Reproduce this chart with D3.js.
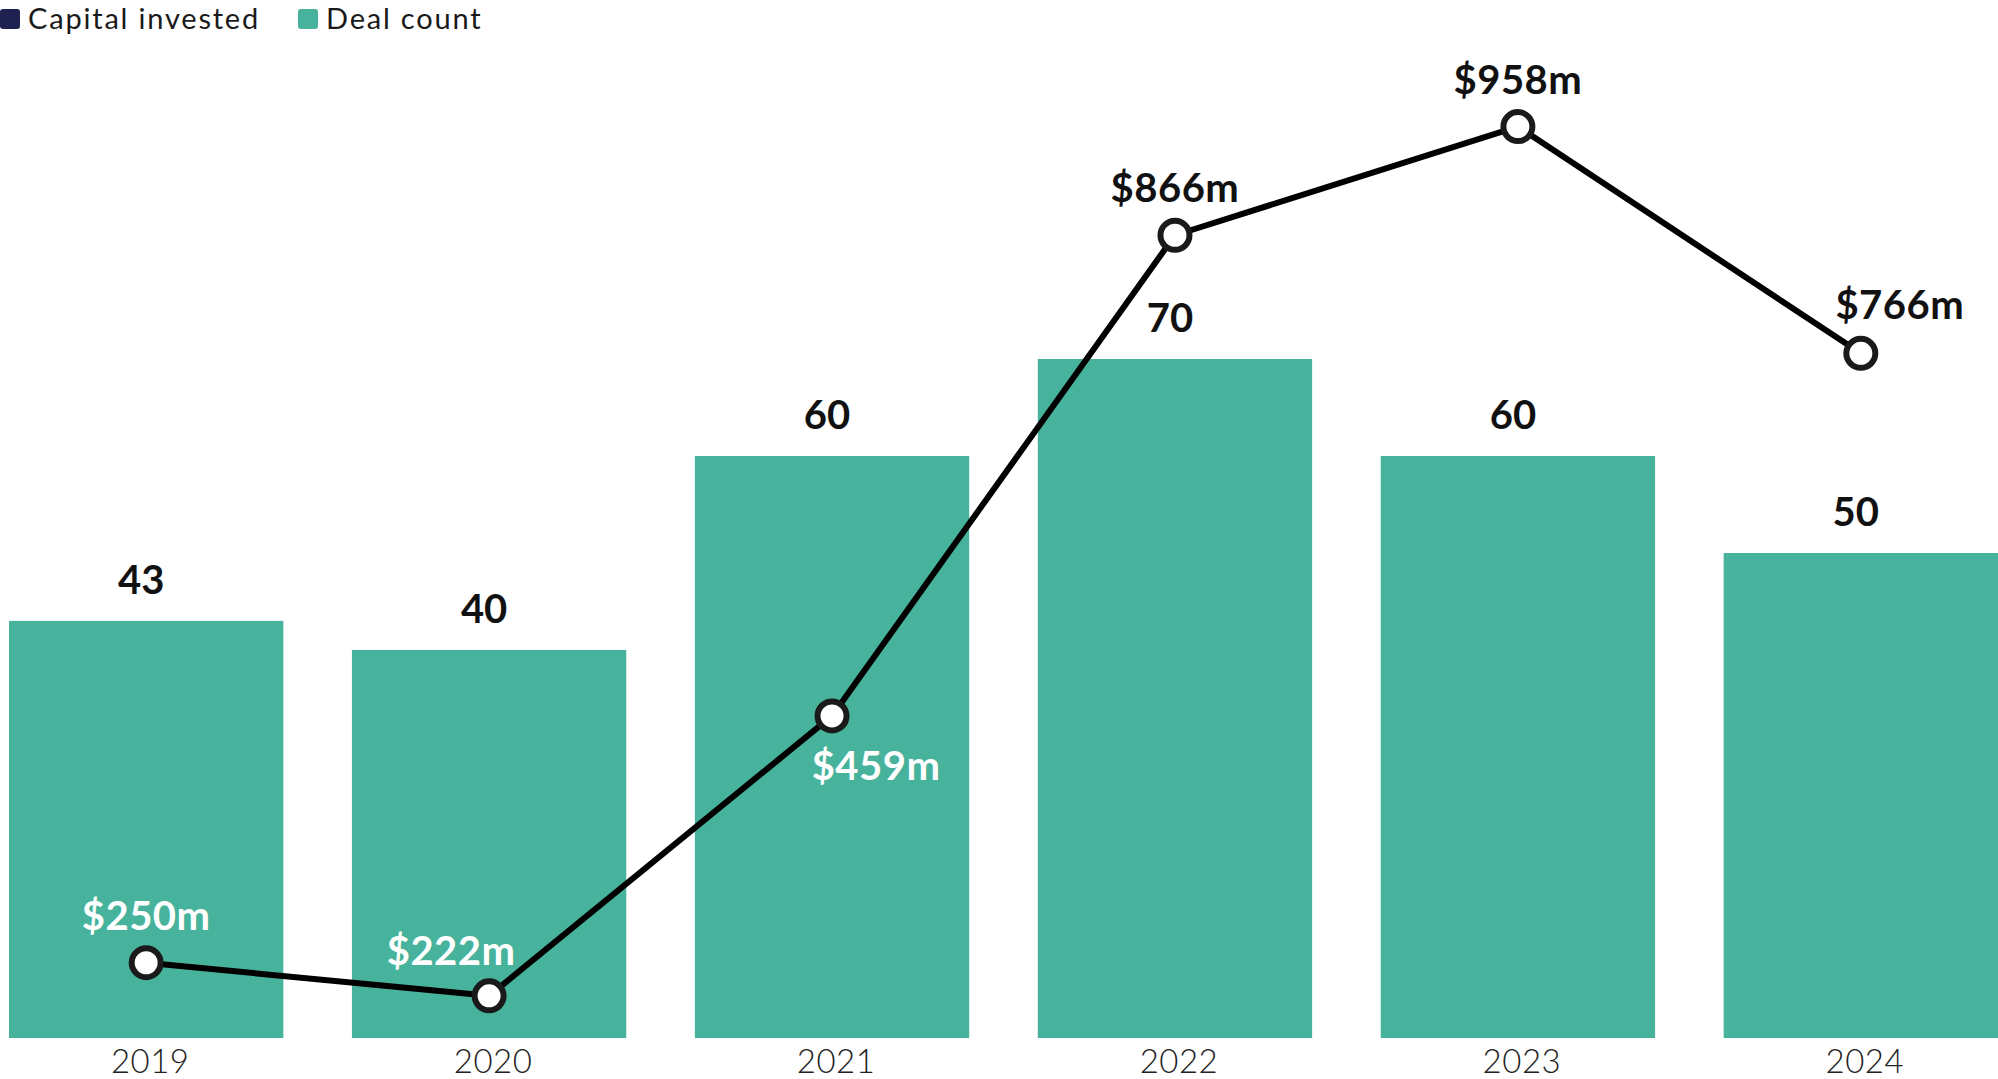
<!DOCTYPE html>
<html>
<head>
<meta charset="utf-8">
<script src="https://cdn.jsdelivr.net/npm/d3@7"></script>
<style>
  html, body { margin: 0; padding: 0; background: #ffffff; }
  svg { display: block; font-family: Lato, "Noto Sans", sans-serif; }
</style>
</head>
<body>
<svg id="chart" width="1998" height="1079"></svg>
<script>
// ---- data ----
const years = ["2019", "2020", "2021", "2022", "2023", "2024"];
const dealCount = [43, 40, 60, 70, 60, 50];
const capitalInvested = [250, 222, 459, 866, 958, 766];
const capitalLabels = ["$250m", "$222m", "$459m", "$866m", "$958m", "$766m"];
const labelPlacement = ["above", "above-left", "below-right", "above", "above", "above-right"];
const legendItems = ["Capital invested", "Deal count"];

// ---- style ----
const barColor = "#47b39c";
const capitalColor = "#1f2150";

const svg = d3.select("#chart");

const x = d3.scaleBand().domain(years).range([9, 1998]).paddingInner(0.2).paddingOuter(0);
const yBar = d3.scaleLinear().domain([0, 70]).range([1038, 359]);
const yLine = d3.scaleLinear().domain([0, 1000]).range([1258, 77]);

const rows = years.map((yr, i) => ({
  year: yr, deals: dealCount[i], cap: capitalInvested[i], label: capitalLabels[i], place: labelPlacement[i]
}));

// bars
svg.append("g").selectAll("rect").data(rows).join("rect")
  .attr("x", d => x(d.year))
  .attr("y", d => yBar(d.deals))
  .attr("width", x.bandwidth())
  .attr("height", d => yBar(0) - yBar(d.deals))
  .attr("fill", barColor);

// bar value labels
svg.append("g").selectAll("text").data(rows).join("text")
  .attr("x", d => x(d.year) + x.bandwidth() / 2 - 5)
  .attr("y", d => yBar(d.deals) - 27)
  .attr("text-anchor", "middle")
  .attr("font-size", 40)
  .attr("font-weight", 700)
  .attr("fill", "#111")
  .text(d => d.deals);

// x axis
const axis = svg.append("g")
  .attr("transform", `translate(0,${yBar(0)})`)
  .call(d3.axisBottom(x).tickSize(0).tickPadding(12));
axis.select(".domain").remove();
axis.selectAll("text")
  .attr("dx", 4)
  .attr("font-size", 33)
  .attr("font-weight", 300)
  .attr("letter-spacing", 0.5)
  .attr("font-family", "Lato, 'Noto Sans', sans-serif")
  .attr("fill", "#222");

// line
const cx = d => x(d.year) + x.bandwidth() / 2;
const line = d3.line().x(cx).y(d => yLine(d.cap));
svg.append("path").datum(rows)
  .attr("d", line)
  .attr("fill", "none")
  .attr("stroke", "#000")
  .attr("stroke-width", 6)
  .attr("stroke-linejoin", "round");

svg.append("g").selectAll("circle").data(rows).join("circle")
  .attr("cx", cx)
  .attr("cy", d => yLine(d.cap))
  .attr("r", 14.5)
  .attr("fill", "#fff")
  .attr("stroke", "#1a1a1a")
  .attr("stroke-width", 6);

// capital labels
const offsets = {
  "above": [0, -33],
  "above-left": [-38, -31],
  "below-right": [44, 64],
  "above-right": [39, -34]
};
svg.append("g").selectAll("text").data(rows).join("text")
  .attr("x", d => cx(d) + offsets[d.place][0])
  .attr("y", d => yLine(d.cap) + offsets[d.place][1])
  .attr("text-anchor", "middle")
  .attr("font-size", 40)
  .attr("font-weight", 700)
  .attr("letter-spacing", 0.5)
  .attr("fill", d => (yLine(d.cap) > yBar(d.deals) ? "#ffffff" : "#111"))
  .text(d => d.label);

// legend
const legendColors = [capitalColor, barColor];
const legendX = [0, 298];
const lg = svg.append("g");
legendItems.forEach((name, i) => {
  lg.append("rect")
    .attr("x", legendX[i]).attr("y", 9)
    .attr("width", 20).attr("height", 20)
    .attr("rx", 3)
    .attr("fill", legendColors[i]);
  lg.append("text")
    .attr("x", legendX[i] + 28).attr("y", 29)
    .attr("font-size", 29)
    .attr("font-weight", 400)
    .attr("letter-spacing", 1.8)
    .attr("fill", "#1a1a1a")
    .text(name);
});
</script>
</body>
</html>
